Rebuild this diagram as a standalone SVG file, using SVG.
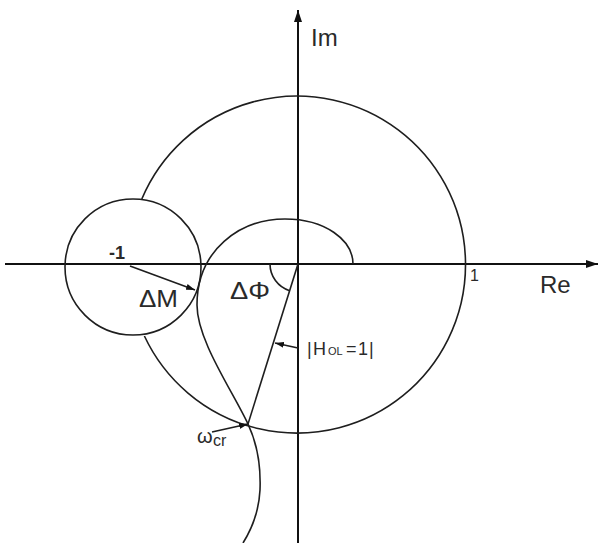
<svg xmlns="http://www.w3.org/2000/svg" width="598" height="543" viewBox="0 0 598 543">
<style>
.ln{fill:none;stroke:#1e1e1e;stroke-width:1.6}
.ax{fill:none;stroke:#111;stroke-width:2}
.t{font-family:"Liberation Sans",Arial,sans-serif;fill:#2a2a2a}
</style>
<defs>
<marker id="ah" markerUnits="userSpaceOnUse" markerWidth="12" markerHeight="8" refX="12" refY="4" orient="auto">
<path d="M0,0 L12,4 L0,8 z" fill="#111"/>
</marker>
<marker id="sa" markerUnits="userSpaceOnUse" markerWidth="9" markerHeight="6" refX="9" refY="3" orient="auto">
<path d="M0,0 L9,3 L0,6 z" fill="#111"/>
</marker>
</defs>
<rect width="598" height="543" fill="#fff"/>
<g id="axes">
<line class="ax" x1="5" y1="264" x2="598" y2="264" marker-end="url(#ah)"/>
<line class="ax" x1="298" y1="543" x2="298" y2="10" marker-end="url(#ah)"/>
<text class="t" x="311" y="46" font-size="24">Im</text>
<text class="t" x="540" y="293" font-size="24">Re</text>
<text class="t" x="470" y="281" font-size="16">1</text>
</g>
<g id="unit-circle">
<path class="ln" d="M141.8 199 A168.5 168.5 0 1 1 144.4 336"/>
</g>
<g id="margin-circle">
<circle class="ln" cx="133" cy="267" r="68"/>
<text class="t" x="109" y="259" font-size="18" font-weight="bold">-1</text>
</g>
<g id="nyquist-curve">
<path class="ln" d="M353 264 C353 240 325 219 285 219 C240 219 197 250 197 305 C197 340 232 390 248 424 C256 441 261 465 260 490 C259 510 253 527 243 543"/>
</g>
<g id="phase-arc">
<path class="ln" d="M270 264 A28 28 0 0 0 289.6 290.7"/>
<text class="t" x="230" y="299" font-size="23" textLength="40" lengthAdjust="spacingAndGlyphs">ΔΦ</text>
</g>
<g id="connectors">
<line class="ln" x1="298" y1="264" x2="248" y2="424"/>
<line class="ln" x1="130" y1="266" x2="195" y2="290" marker-end="url(#sa)"/>
<line class="ln" x1="298" y1="348" x2="275" y2="343" marker-end="url(#sa)"/>
<line class="ln" x1="212" y1="432" x2="248" y2="424" marker-end="url(#sa)"/>
</g>
<g id="labels">
<text class="t" x="139" y="307" font-size="23" textLength="39" lengthAdjust="spacingAndGlyphs">ΔM</text>
<text class="t" font-size="18" y="355"><tspan x="307">|</tspan><tspan x="313">H</tspan><tspan x="328" font-size="11">OL</tspan><tspan x="346">=</tspan><tspan x="358">1</tspan><tspan x="369">|</tspan></text>
<text class="t" x="197" y="443" font-size="20">ω</text>
<text class="t" x="213" y="446" font-size="16">cr</text>
</g>
</svg>
